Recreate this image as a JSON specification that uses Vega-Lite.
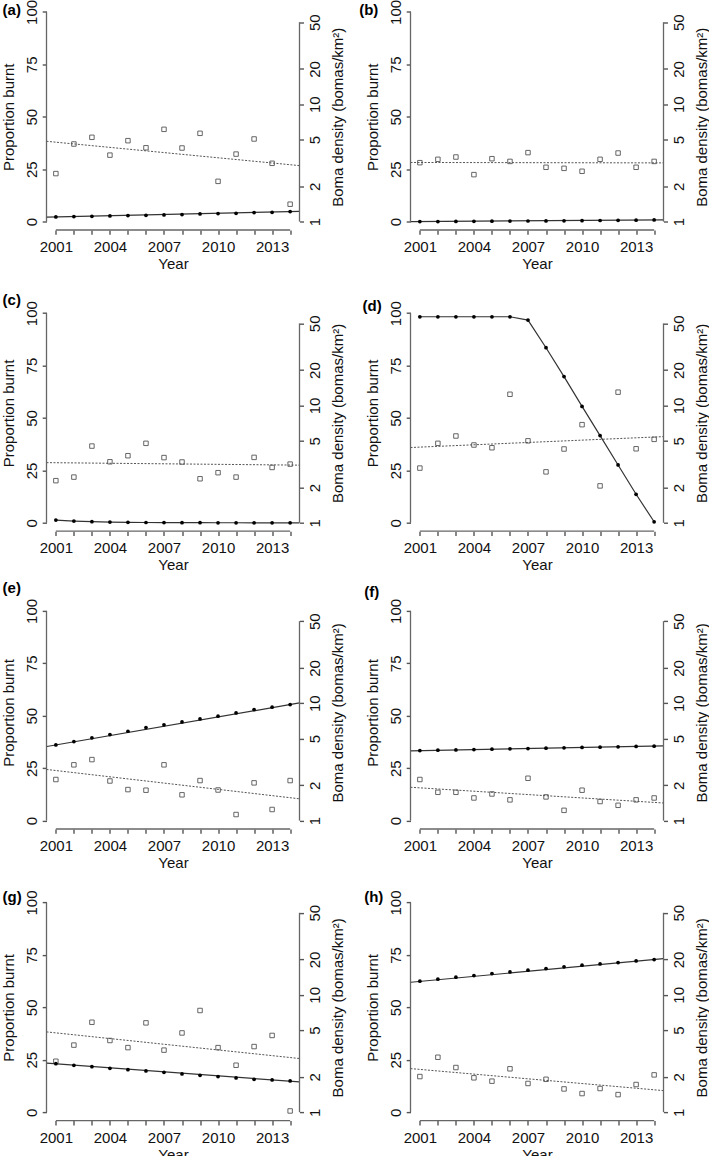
{
"$schema": "https://vega.github.io/schema/vega-lite/v6.json",
"background": "white",
"padding": {"left": 1.5, "top": -1.5, "right": 0, "bottom": 0},
"datasets": {
"burnt": [
{"panel":"a","year":2001,"burnt":22.9},{"panel":"a","year":2002,"burnt":37.0},{"panel":"a","year":2003,"burnt":40.2},{"panel":"a","year":2004,"burnt":31.7},{"panel":"a","year":2005,"burnt":38.6},{"panel":"a","year":2006,"burnt":35.2},{"panel":"a","year":2007,"burnt":44.0},{"panel":"a","year":2008,"burnt":35.1},{"panel":"a","year":2009,"burnt":42.1},{"panel":"a","year":2010,"burnt":19.2},{"panel":"a","year":2011,"burnt":32.2},{"panel":"a","year":2012,"burnt":39.4},{"panel":"a","year":2013,"burnt":27.8},{"panel":"a","year":2014,"burnt":8.3},
{"panel":"b","year":2001,"burnt":28.1},{"panel":"b","year":2002,"burnt":29.7},{"panel":"b","year":2003,"burnt":30.8},{"panel":"b","year":2004,"burnt":22.4},{"panel":"b","year":2005,"burnt":30.0},{"panel":"b","year":2006,"burnt":28.7},{"panel":"b","year":2007,"burnt":32.9},{"panel":"b","year":2008,"burnt":25.9},{"panel":"b","year":2009,"burnt":25.4},{"panel":"b","year":2010,"burnt":24.0},{"panel":"b","year":2011,"burnt":29.7},{"panel":"b","year":2012,"burnt":32.7},{"panel":"b","year":2013,"burnt":25.9},{"panel":"b","year":2014,"burnt":28.7},
{"panel":"c","year":2001,"burnt":20.1},{"panel":"c","year":2002,"burnt":21.8},{"panel":"c","year":2003,"burnt":36.6},{"panel":"c","year":2004,"burnt":29.1},{"panel":"c","year":2005,"burnt":32.0},{"panel":"c","year":2006,"burnt":37.9},{"panel":"c","year":2007,"burnt":31.1},{"panel":"c","year":2008,"burnt":29.0},{"panel":"c","year":2009,"burnt":21.0},{"panel":"c","year":2010,"burnt":23.9},{"panel":"c","year":2011,"burnt":21.8},{"panel":"c","year":2012,"burnt":31.2},{"panel":"c","year":2013,"burnt":26.4},{"panel":"c","year":2014,"burnt":28.0},
{"panel":"d","year":2001,"burnt":26.1},{"panel":"d","year":2002,"burnt":37.9},{"panel":"d","year":2003,"burnt":41.4},{"panel":"d","year":2004,"burnt":37.1},{"panel":"d","year":2005,"burnt":35.8},{"panel":"d","year":2006,"burnt":61.3},{"panel":"d","year":2007,"burnt":39.1},{"panel":"d","year":2008,"burnt":24.3},{"panel":"d","year":2009,"burnt":35.2},{"panel":"d","year":2010,"burnt":46.8},{"panel":"d","year":2011,"burnt":17.6},{"panel":"d","year":2012,"burnt":62.3},{"panel":"d","year":2013,"burnt":35.3},{"panel":"d","year":2014,"burnt":39.8},
{"panel":"e","year":2001,"burnt":19.6},{"panel":"e","year":2002,"burnt":26.6},{"panel":"e","year":2003,"burnt":29.1},{"panel":"e","year":2004,"burnt":18.9},{"panel":"e","year":2005,"burnt":14.8},{"panel":"e","year":2006,"burnt":14.5},{"panel":"e","year":2007,"burnt":26.6},{"panel":"e","year":2008,"burnt":12.3},{"panel":"e","year":2009,"burnt":19.1},{"panel":"e","year":2010,"burnt":14.6},{"panel":"e","year":2011,"burnt":2.9},{"panel":"e","year":2012,"burnt":18.0},{"panel":"e","year":2013,"burnt":5.3},{"panel":"e","year":2014,"burnt":19.1},
{"panel":"f","year":2001,"burnt":19.6},{"panel":"f","year":2002,"burnt":13.5},{"panel":"f","year":2003,"burnt":13.5},{"panel":"f","year":2004,"burnt":10.8},{"panel":"f","year":2005,"burnt":12.7},{"panel":"f","year":2006,"burnt":9.9},{"panel":"f","year":2007,"burnt":20.2},{"panel":"f","year":2008,"burnt":11.3},{"panel":"f","year":2009,"burnt":4.9},{"panel":"f","year":2010,"burnt":14.5},{"panel":"f","year":2011,"burnt":9.1},{"panel":"f","year":2012,"burnt":7.3},{"panel":"f","year":2013,"burnt":9.9},{"panel":"f","year":2014,"burnt":10.8},
{"panel":"g","year":2001,"burnt":24.3},{"panel":"g","year":2002,"burnt":32.0},{"panel":"g","year":2003,"burnt":42.9},{"panel":"g","year":2004,"burnt":34.2},{"panel":"g","year":2005,"burnt":30.8},{"panel":"g","year":2006,"burnt":42.6},{"panel":"g","year":2007,"burnt":29.6},{"panel":"g","year":2008,"burnt":37.8},{"panel":"g","year":2009,"burnt":48.5},{"panel":"g","year":2010,"burnt":30.8},{"panel":"g","year":2011,"burnt":22.4},{"panel":"g","year":2012,"burnt":31.3},{"panel":"g","year":2013,"burnt":36.6},{"panel":"g","year":2014,"burnt":0.6},
{"panel":"h","year":2001,"burnt":17.0},{"panel":"h","year":2002,"burnt":26.2},{"panel":"h","year":2003,"burnt":21.3},{"panel":"h","year":2004,"burnt":16.4},{"panel":"h","year":2005,"burnt":14.8},{"panel":"h","year":2006,"burnt":20.7},{"panel":"h","year":2007,"burnt":13.7},{"panel":"h","year":2008,"burnt":15.7},{"panel":"h","year":2009,"burnt":11.1},{"panel":"h","year":2010,"burnt":8.9},{"panel":"h","year":2011,"burnt":11.3},{"panel":"h","year":2012,"burnt":8.4},{"panel":"h","year":2013,"burnt":13.2},{"panel":"h","year":2014,"burnt":17.8}
],
"density": [
{"panel":"a","year":2001,"density":1.096},{"panel":"a","year":2002,"density":1.103},{"panel":"a","year":2003,"density":1.110},{"panel":"a","year":2004,"density":1.118},{"panel":"a","year":2005,"density":1.125},{"panel":"a","year":2006,"density":1.132},{"panel":"a","year":2007,"density":1.140},{"panel":"a","year":2008,"density":1.147},{"panel":"a","year":2009,"density":1.163},{"panel":"a","year":2010,"density":1.170},{"panel":"a","year":2011,"density":1.178},{"panel":"a","year":2012,"density":1.193},{"panel":"a","year":2013,"density":1.201},{"panel":"a","year":2014,"density":1.217},
{"panel":"b","year":2001,"density":1.000},{"panel":"b","year":2002,"density":1.002},{"panel":"b","year":2003,"density":1.004},{"panel":"b","year":2004,"density":1.006},{"panel":"b","year":2005,"density":1.008},{"panel":"b","year":2006,"density":1.010},{"panel":"b","year":2007,"density":1.012},{"panel":"b","year":2008,"density":1.014},{"panel":"b","year":2009,"density":1.016},{"panel":"b","year":2010,"density":1.019},{"panel":"b","year":2011,"density":1.022},{"panel":"b","year":2012,"density":1.025},{"panel":"b","year":2013,"density":1.029},{"panel":"b","year":2014,"density":1.033},
{"panel":"c","year":2001,"density":1.054},{"panel":"c","year":2002,"density":1.035},{"panel":"c","year":2003,"density":1.022},{"panel":"c","year":2004,"density":1.014},{"panel":"c","year":2005,"density":1.009},{"panel":"c","year":2006,"density":1.006},{"panel":"c","year":2007,"density":1.004},{"panel":"c","year":2008,"density":1.003},{"panel":"c","year":2009,"density":1.002},{"panel":"c","year":2010,"density":1.001},{"panel":"c","year":2011,"density":1.001},{"panel":"c","year":2012,"density":1.000},{"panel":"c","year":2013,"density":1.000},{"panel":"c","year":2014,"density":1.000},
{"panel":"d","year":2001,"density":56.9},{"panel":"d","year":2002,"density":56.9},{"panel":"d","year":2003,"density":56.9},{"panel":"d","year":2004,"density":56.9},{"panel":"d","year":2005,"density":56.9},{"panel":"d","year":2006,"density":56.9},{"panel":"d","year":2007,"density":53.3},{"panel":"d","year":2008,"density":31.0},{"panel":"d","year":2009,"density":17.6},{"panel":"d","year":2010,"density":9.81},{"panel":"d","year":2011,"density":5.53},{"panel":"d","year":2012,"density":3.11},{"panel":"d","year":2013,"density":1.75},{"panel":"d","year":2014,"density":1.02},
{"panel":"e","year":2001,"density":4.41},{"panel":"e","year":2002,"density":4.71},{"panel":"e","year":2003,"density":5.07},{"panel":"e","year":2004,"density":5.41},{"panel":"e","year":2005,"density":5.77},{"panel":"e","year":2006,"density":6.20},{"panel":"e","year":2007,"density":6.54},{"panel":"e","year":2008,"density":6.93},{"panel":"e","year":2009,"density":7.35},{"panel":"e","year":2010,"density":7.75},{"panel":"e","year":2011,"density":8.27},{"panel":"e","year":2012,"density":8.83},{"panel":"e","year":2013,"density":9.24},{"panel":"e","year":2014,"density":9.74},
{"panel":"f","year":2001,"density":3.95},{"panel":"f","year":2002,"density":3.98},{"panel":"f","year":2003,"density":4.00},{"panel":"f","year":2004,"density":4.03},{"panel":"f","year":2005,"density":4.06},{"panel":"f","year":2006,"density":4.09},{"panel":"f","year":2007,"density":4.11},{"panel":"f","year":2008,"density":4.14},{"panel":"f","year":2009,"density":4.17},{"panel":"f","year":2010,"density":4.20},{"panel":"f","year":2011,"density":4.22},{"panel":"f","year":2012,"density":4.25},{"panel":"f","year":2013,"density":4.28},{"panel":"f","year":2014,"density":4.30},
{"panel":"g","year":2001,"density":2.593},{"panel":"g","year":2002,"density":2.508},{"panel":"g","year":2003,"density":2.444},{"panel":"g","year":2004,"density":2.365},{"panel":"g","year":2005,"density":2.305},{"panel":"g","year":2006,"density":2.245},{"panel":"g","year":2007,"density":2.188},{"panel":"g","year":2008,"density":2.117},{"panel":"g","year":2009,"density":2.063},{"panel":"g","year":2010,"density":2.010},{"panel":"g","year":2011,"density":1.957},{"panel":"g","year":2012,"density":1.908},{"panel":"g","year":2013,"density":1.883},{"panel":"g","year":2014,"density":1.846},
{"panel":"h","year":2001,"density":13.06},{"panel":"h","year":2002,"density":13.59},{"panel":"h","year":2003,"density":14.13},{"panel":"h","year":2004,"density":14.60},{"panel":"h","year":2005,"density":15.18},{"panel":"h","year":2006,"density":15.68},{"panel":"h","year":2007,"density":16.20},{"panel":"h","year":2008,"density":16.74},{"panel":"h","year":2009,"density":17.30},{"panel":"h","year":2010,"density":17.87},{"panel":"h","year":2011,"density":18.34},{"panel":"h","year":2012,"density":18.83},{"panel":"h","year":2013,"density":19.45},{"panel":"h","year":2014,"density":19.97}
],
"burnt_trend": [
{"panel":"a","year":2000.48,"burnt":38.3},{"panel":"a","year":2014.52,"burnt":26.7},
{"panel":"b","year":2000.48,"burnt":28.2},{"panel":"b","year":2014.52,"burnt":28.0},
{"panel":"c","year":2000.48,"burnt":28.7},{"panel":"c","year":2014.52,"burnt":27.5},
{"panel":"d","year":2000.48,"burnt":35.9},{"panel":"d","year":2014.52,"burnt":41.1},
{"panel":"e","year":2000.48,"burnt":24.4},{"panel":"e","year":2014.52,"burnt":10.4},
{"panel":"f","year":2000.48,"burnt":15.9},{"panel":"f","year":2014.52,"burnt":8.4},
{"panel":"g","year":2000.48,"burnt":38.3},{"panel":"g","year":2014.52,"burnt":25.6},
{"panel":"h","year":2000.48,"burnt":20.8},{"panel":"h","year":2014.52,"burnt":10.3}
],
"density_trend": [
{"panel":"a","year":2000.5,"density":1.092},{"panel":"a","year":2014.52,"density":1.222},
{"panel":"b","year":2000.5,"density":0.999},{"panel":"b","year":2014.52,"density":1.035},
{"panel":"c","year":2001,"density":1.054},{"panel":"c","year":2002,"density":1.035},{"panel":"c","year":2003,"density":1.022},{"panel":"c","year":2004,"density":1.014},{"panel":"c","year":2005,"density":1.009},{"panel":"c","year":2006,"density":1.006},{"panel":"c","year":2007,"density":1.004},{"panel":"c","year":2008,"density":1.003},{"panel":"c","year":2009,"density":1.002},{"panel":"c","year":2010,"density":1.001},{"panel":"c","year":2011,"density":1.001},{"panel":"c","year":2012,"density":1.000},{"panel":"c","year":2013,"density":1.000},{"panel":"c","year":2014,"density":1.000},{"panel":"c","year":2014.52,"density":1.000},
{"panel":"d","year":2001,"density":56.9},{"panel":"d","year":2006,"density":56.9},{"panel":"d","year":2007,"density":53.3},{"panel":"d","year":2008,"density":31.0},{"panel":"d","year":2009,"density":17.6},{"panel":"d","year":2010,"density":9.81},{"panel":"d","year":2011,"density":5.53},{"panel":"d","year":2012,"density":3.11},{"panel":"d","year":2013,"density":1.75},{"panel":"d","year":2014,"density":1.02},
{"panel":"e","year":2000.5,"density":4.28},{"panel":"e","year":2014.52,"density":10.05},
{"panel":"f","year":2000.5,"density":3.93},{"panel":"f","year":2014.52,"density":4.33},
{"panel":"g","year":2000.5,"density":2.62},{"panel":"g","year":2014.52,"density":1.81},
{"panel":"h","year":2000.5,"density":12.8},{"panel":"h","year":2014.52,"density":20.3}
],
"frame_left": [
{"side":"left","year":2000.48,"value":0},{"side":"left","year":2000.48,"value":100},
{"side":"bottom","year":2001,"value":-4},{"side":"bottom","year":2014,"value":-4}
],
"frame_right": [
{"side":"right","year":2014.52,"density":1},{"side":"right","year":2014.52,"density":50}
]
},
"concat": [
{"width":253,"height":226.5,"title":{"text":"(a)","dx":-43.9,"dy":23.0},
"layer":[
{"data":{"name":"burnt"},"transform":[{"filter":"datum.panel === 'a'"}],"mark":{"type":"point","shape":"square","filled":false,"size":20,"stroke":"#555555","strokeWidth":0.9,"opacity":1},
"encoding":{"x":{"field":"year","type":"quantitative","scale":{"domain":[2000.48,2014.52],"nice":false,"zero":false},"axis":{"orient":"bottom","values":[2001,2002,2003,2004,2005,2006,2007,2008,2009,2010,2011,2012,2013,2014],"format":"d","labelExpr":"(datum.value - 2001) % 3 === 0 ? datum.label : ''","labelOverlap":false,"labelFlush":false,"ticks":true,"tickSize":4.3,"tickWidth":1.4,"tickColor":"#555555","labelPadding":5.2,"title":"Year","titlePadding":2}},
"y":{"field":"burnt","type":"quantitative","scale":{"domain":[-4,104],"nice":false,"zero":false},"axis":{"orient":"left","values":[0,25,50,75,100],"tickSize":4.3,"labelAngle":270,"labelAlign":"center","labelBaseline":"alphabetic","labelPadding":6,"title":"Proportion burnt","titleAngle":270,"titleAlign":"center","titleBaseline":"bottom","titlePadding":7.3}}}},
{"data":{"name":"burnt_trend"},"transform":[{"filter":"datum.panel === 'a'"}],"mark":{"type":"line","strokeDash":[2,1.5],"strokeWidth":1,"color":"#555555"},
"encoding":{"x":{"field":"year","type":"quantitative","scale":{"domain":[2000.48,2014.52],"nice":false,"zero":false},"axis":null},"y":{"field":"burnt","type":"quantitative","scale":{"domain":[-4,104],"nice":false,"zero":false},"axis":null}}},
{"data":{"name":"frame_left"},"mark":{"type":"line","color":"#666666","strokeWidth":1.3},"encoding":{"x":{"field":"year","type":"quantitative","scale":{"domain":[2000.48,2014.52],"nice":false,"zero":false},"axis":null},"y":{"field":"value","type":"quantitative","scale":{"domain":[-4,104],"nice":false,"zero":false},"axis":null},"detail":{"field":"side"}}},
{"data":{"name":"density_trend"},"transform":[{"filter":"datum.panel === 'a'"}],"mark":{"type":"line","color":"#333333","strokeWidth":1.2},
"encoding":{"x":{"field":"year","type":"quantitative","scale":{"domain":[2000.48,2014.52],"nice":false,"zero":false},"axis":null},"y":{"field":"density","type":"quantitative","scale":{"type":"log","domain":[0.8482,72.1],"nice":false},"axis":{"orient":"right","values":[1,2,5,10,20,50],"format":"d","tickSize":4,"labelAngle":270,"labelAlign":"center","labelBaseline":"top","labelPadding":4.3,"title":"Boma density (bomas/km²)","titleAngle":270,"titleAlign":"center","titleBaseline":"top","titlePadding":7.5}}}},
{"data":{"name":"density"},"transform":[{"filter":"datum.panel === 'a'"}],"mark":{"type":"point","shape":"circle","filled":true,"size":14,"color":"#000000","opacity":1},
"encoding":{"x":{"field":"year","type":"quantitative","scale":{"domain":[2000.48,2014.52],"nice":false,"zero":false},"axis":null},"y":{"field":"density","type":"quantitative","scale":{"type":"log","domain":[0.8482,72.1],"nice":false},"axis":null}}},
{"data":{"name":"frame_right"},"mark":{"type":"line","color":"#666666","strokeWidth":1.3},"encoding":{"x":{"field":"year","type":"quantitative","scale":{"domain":[2000.48,2014.52],"nice":false,"zero":false},"axis":null},"y":{"field":"density","type":"quantitative","scale":{"type":"log","domain":[0.8482,72.1],"nice":false},"axis":null}}}
],
"resolve":{"scale":{"x":"independent","y":"independent"}}},

{"width":253,"height":226.5,"title":{"text":"(b)","dx":-51.3,"dy":23.0},
"layer":[
{"data":{"name":"burnt"},"transform":[{"filter":"datum.panel === 'b'"}],"mark":{"type":"point","shape":"square","filled":false,"size":20,"stroke":"#555555","strokeWidth":0.9,"opacity":1},
"encoding":{"x":{"field":"year","type":"quantitative","scale":{"domain":[2000.48,2014.52],"nice":false,"zero":false},"axis":{"orient":"bottom","values":[2001,2002,2003,2004,2005,2006,2007,2008,2009,2010,2011,2012,2013,2014],"format":"d","labelExpr":"(datum.value - 2001) % 3 === 0 ? datum.label : ''","labelOverlap":false,"labelFlush":false,"ticks":true,"tickSize":4.3,"tickWidth":1.4,"tickColor":"#555555","labelPadding":5.2,"title":"Year","titlePadding":2}},
"y":{"field":"burnt","type":"quantitative","scale":{"domain":[-4,104],"nice":false,"zero":false},"axis":{"orient":"left","values":[0,25,50,75,100],"tickSize":4.3,"labelAngle":270,"labelAlign":"center","labelBaseline":"alphabetic","labelPadding":6,"title":"Proportion burnt","titleAngle":270,"titleAlign":"center","titleBaseline":"bottom","titlePadding":7.3}}}},
{"data":{"name":"burnt_trend"},"transform":[{"filter":"datum.panel === 'b'"}],"mark":{"type":"line","strokeDash":[2,1.5],"strokeWidth":1,"color":"#555555"},
"encoding":{"x":{"field":"year","type":"quantitative","scale":{"domain":[2000.48,2014.52],"nice":false,"zero":false},"axis":null},"y":{"field":"burnt","type":"quantitative","scale":{"domain":[-4,104],"nice":false,"zero":false},"axis":null}}},
{"data":{"name":"frame_left"},"mark":{"type":"line","color":"#666666","strokeWidth":1.3},"encoding":{"x":{"field":"year","type":"quantitative","scale":{"domain":[2000.48,2014.52],"nice":false,"zero":false},"axis":null},"y":{"field":"value","type":"quantitative","scale":{"domain":[-4,104],"nice":false,"zero":false},"axis":null},"detail":{"field":"side"}}},
{"data":{"name":"density_trend"},"transform":[{"filter":"datum.panel === 'b'"}],"mark":{"type":"line","color":"#333333","strokeWidth":1.2},
"encoding":{"x":{"field":"year","type":"quantitative","scale":{"domain":[2000.48,2014.52],"nice":false,"zero":false},"axis":null},"y":{"field":"density","type":"quantitative","scale":{"type":"log","domain":[0.8482,72.1],"nice":false},"axis":{"orient":"right","values":[1,2,5,10,20,50],"format":"d","tickSize":4,"labelAngle":270,"labelAlign":"center","labelBaseline":"top","labelPadding":4.3,"title":"Boma density (bomas/km²)","titleAngle":270,"titleAlign":"center","titleBaseline":"top","titlePadding":7.5}}}},
{"data":{"name":"density"},"transform":[{"filter":"datum.panel === 'b'"}],"mark":{"type":"point","shape":"circle","filled":true,"size":14,"color":"#000000","opacity":1},
"encoding":{"x":{"field":"year","type":"quantitative","scale":{"domain":[2000.48,2014.52],"nice":false,"zero":false},"axis":null},"y":{"field":"density","type":"quantitative","scale":{"type":"log","domain":[0.8482,72.1],"nice":false},"axis":null}}},
{"data":{"name":"frame_right"},"mark":{"type":"line","color":"#666666","strokeWidth":1.3},"encoding":{"x":{"field":"year","type":"quantitative","scale":{"domain":[2000.48,2014.52],"nice":false,"zero":false},"axis":null},"y":{"field":"density","type":"quantitative","scale":{"type":"log","domain":[0.8482,72.1],"nice":false},"axis":null}}}
],
"resolve":{"scale":{"x":"independent","y":"independent"}}},

{"width":253,"height":236.5,"title":{"text":"(c)","dx":-43.9,"dy":16.9},
"layer":[
{"data":{"name":"burnt"},"transform":[{"filter":"datum.panel === 'c'"}],"mark":{"type":"point","shape":"square","filled":false,"size":20,"stroke":"#555555","strokeWidth":0.9,"opacity":1},
"encoding":{"x":{"field":"year","type":"quantitative","scale":{"domain":[2000.48,2014.52],"nice":false,"zero":false},"axis":{"orient":"bottom","values":[2001,2002,2003,2004,2005,2006,2007,2008,2009,2010,2011,2012,2013,2014],"format":"d","labelExpr":"(datum.value - 2001) % 3 === 0 ? datum.label : ''","labelOverlap":false,"labelFlush":false,"ticks":true,"tickSize":4.3,"tickWidth":1.4,"tickColor":"#555555","labelPadding":5.2,"title":"Year","titlePadding":2}},
"y":{"field":"burnt","type":"quantitative","scale":{"domain":[-4,108.78],"nice":false,"zero":false},"axis":{"orient":"left","values":[0,25,50,75,100],"tickSize":4.3,"labelAngle":270,"labelAlign":"center","labelBaseline":"alphabetic","labelPadding":6,"title":"Proportion burnt","titleAngle":270,"titleAlign":"center","titleBaseline":"bottom","titlePadding":7.3}}}},
{"data":{"name":"burnt_trend"},"transform":[{"filter":"datum.panel === 'c'"}],"mark":{"type":"line","strokeDash":[2,1.5],"strokeWidth":1,"color":"#555555"},
"encoding":{"x":{"field":"year","type":"quantitative","scale":{"domain":[2000.48,2014.52],"nice":false,"zero":false},"axis":null},"y":{"field":"burnt","type":"quantitative","scale":{"domain":[-4,108.78],"nice":false,"zero":false},"axis":null}}},
{"data":{"name":"frame_left"},"mark":{"type":"line","color":"#666666","strokeWidth":1.3},"encoding":{"x":{"field":"year","type":"quantitative","scale":{"domain":[2000.48,2014.52],"nice":false,"zero":false},"axis":null},"y":{"field":"value","type":"quantitative","scale":{"domain":[-4,108.78],"nice":false,"zero":false},"axis":null},"detail":{"field":"side"}}},
{"data":{"name":"density_trend"},"transform":[{"filter":"datum.panel === 'c'"}],"mark":{"type":"line","color":"#333333","strokeWidth":1.2},
"encoding":{"x":{"field":"year","type":"quantitative","scale":{"domain":[2000.48,2014.52],"nice":false,"zero":false},"axis":null},"y":{"field":"density","type":"quantitative","scale":{"type":"log","domain":[0.8482,87.7],"nice":false},"axis":{"orient":"right","values":[1,2,5,10,20,50],"format":"d","tickSize":4,"labelAngle":270,"labelAlign":"center","labelBaseline":"top","labelPadding":4.3,"title":"Boma density (bomas/km²)","titleAngle":270,"titleAlign":"center","titleBaseline":"top","titlePadding":7.5}}}},
{"data":{"name":"density"},"transform":[{"filter":"datum.panel === 'c'"}],"mark":{"type":"point","shape":"circle","filled":true,"size":14,"color":"#000000","opacity":1},
"encoding":{"x":{"field":"year","type":"quantitative","scale":{"domain":[2000.48,2014.52],"nice":false,"zero":false},"axis":null},"y":{"field":"density","type":"quantitative","scale":{"type":"log","domain":[0.8482,87.7],"nice":false},"axis":null}}},
{"data":{"name":"frame_right"},"mark":{"type":"line","color":"#666666","strokeWidth":1.3},"encoding":{"x":{"field":"year","type":"quantitative","scale":{"domain":[2000.48,2014.52],"nice":false,"zero":false},"axis":null},"y":{"field":"density","type":"quantitative","scale":{"type":"log","domain":[0.8482,87.7],"nice":false},"axis":null}}}
],
"resolve":{"scale":{"x":"independent","y":"independent"}}},

{"width":253,"height":236.5,"title":{"text":"(d)","dx":-47.9,"dy":23.4},
"layer":[
{"data":{"name":"burnt"},"transform":[{"filter":"datum.panel === 'd'"}],"mark":{"type":"point","shape":"square","filled":false,"size":20,"stroke":"#555555","strokeWidth":0.9,"opacity":1},
"encoding":{"x":{"field":"year","type":"quantitative","scale":{"domain":[2000.48,2014.52],"nice":false,"zero":false},"axis":{"orient":"bottom","values":[2001,2002,2003,2004,2005,2006,2007,2008,2009,2010,2011,2012,2013,2014],"format":"d","labelExpr":"(datum.value - 2001) % 3 === 0 ? datum.label : ''","labelOverlap":false,"labelFlush":false,"ticks":true,"tickSize":4.3,"tickWidth":1.4,"tickColor":"#555555","labelPadding":5.2,"title":"Year","titlePadding":2}},
"y":{"field":"burnt","type":"quantitative","scale":{"domain":[-4,108.78],"nice":false,"zero":false},"axis":{"orient":"left","values":[0,25,50,75,100],"tickSize":4.3,"labelAngle":270,"labelAlign":"center","labelBaseline":"alphabetic","labelPadding":6,"title":"Proportion burnt","titleAngle":270,"titleAlign":"center","titleBaseline":"bottom","titlePadding":7.3}}}},
{"data":{"name":"burnt_trend"},"transform":[{"filter":"datum.panel === 'd'"}],"mark":{"type":"line","strokeDash":[2,1.5],"strokeWidth":1,"color":"#555555"},
"encoding":{"x":{"field":"year","type":"quantitative","scale":{"domain":[2000.48,2014.52],"nice":false,"zero":false},"axis":null},"y":{"field":"burnt","type":"quantitative","scale":{"domain":[-4,108.78],"nice":false,"zero":false},"axis":null}}},
{"data":{"name":"frame_left"},"mark":{"type":"line","color":"#666666","strokeWidth":1.3},"encoding":{"x":{"field":"year","type":"quantitative","scale":{"domain":[2000.48,2014.52],"nice":false,"zero":false},"axis":null},"y":{"field":"value","type":"quantitative","scale":{"domain":[-4,108.78],"nice":false,"zero":false},"axis":null},"detail":{"field":"side"}}},
{"data":{"name":"density_trend"},"transform":[{"filter":"datum.panel === 'd'"}],"mark":{"type":"line","color":"#333333","strokeWidth":1.2},
"encoding":{"x":{"field":"year","type":"quantitative","scale":{"domain":[2000.48,2014.52],"nice":false,"zero":false},"axis":null},"y":{"field":"density","type":"quantitative","scale":{"type":"log","domain":[0.8482,87.7],"nice":false},"axis":{"orient":"right","values":[1,2,5,10,20,50],"format":"d","tickSize":4,"labelAngle":270,"labelAlign":"center","labelBaseline":"top","labelPadding":4.3,"title":"Boma density (bomas/km²)","titleAngle":270,"titleAlign":"center","titleBaseline":"top","titlePadding":7.5}}}},
{"data":{"name":"density"},"transform":[{"filter":"datum.panel === 'd'"}],"mark":{"type":"point","shape":"circle","filled":true,"size":14,"color":"#000000","opacity":1},
"encoding":{"x":{"field":"year","type":"quantitative","scale":{"domain":[2000.48,2014.52],"nice":false,"zero":false},"axis":null},"y":{"field":"density","type":"quantitative","scale":{"type":"log","domain":[0.8482,87.7],"nice":false},"axis":null}}},
{"data":{"name":"frame_right"},"mark":{"type":"line","color":"#666666","strokeWidth":1.3},"encoding":{"x":{"field":"year","type":"quantitative","scale":{"domain":[2000.48,2014.52],"nice":false,"zero":false},"axis":null},"y":{"field":"density","type":"quantitative","scale":{"type":"log","domain":[0.8482,87.7],"nice":false},"axis":null}}}
],
"resolve":{"scale":{"x":"independent","y":"independent"}}},

{"width":253,"height":233.1,"title":{"text":"(e)","dx":-43.9,"dy":3.7},
"layer":[
{"data":{"name":"burnt"},"transform":[{"filter":"datum.panel === 'e'"}],"mark":{"type":"point","shape":"square","filled":false,"size":20,"stroke":"#555555","strokeWidth":0.9,"opacity":1},
"encoding":{"x":{"field":"year","type":"quantitative","scale":{"domain":[2000.48,2014.52],"nice":false,"zero":false},"axis":{"orient":"bottom","values":[2001,2002,2003,2004,2005,2006,2007,2008,2009,2010,2011,2012,2013,2014],"format":"d","labelExpr":"(datum.value - 2001) % 3 === 0 ? datum.label : ''","labelOverlap":false,"labelFlush":false,"ticks":true,"tickSize":4.3,"tickWidth":1.4,"tickColor":"#555555","labelPadding":5.2,"title":"Year","titlePadding":2}},
"y":{"field":"burnt","type":"quantitative","scale":{"domain":[-4,107.16],"nice":false,"zero":false},"axis":{"orient":"left","values":[0,25,50,75,100],"tickSize":4.3,"labelAngle":270,"labelAlign":"center","labelBaseline":"alphabetic","labelPadding":6,"title":"Proportion burnt","titleAngle":270,"titleAlign":"center","titleBaseline":"bottom","titlePadding":7.3}}}},
{"data":{"name":"burnt_trend"},"transform":[{"filter":"datum.panel === 'e'"}],"mark":{"type":"line","strokeDash":[2,1.5],"strokeWidth":1,"color":"#555555"},
"encoding":{"x":{"field":"year","type":"quantitative","scale":{"domain":[2000.48,2014.52],"nice":false,"zero":false},"axis":null},"y":{"field":"burnt","type":"quantitative","scale":{"domain":[-4,107.16],"nice":false,"zero":false},"axis":null}}},
{"data":{"name":"frame_left"},"mark":{"type":"line","color":"#666666","strokeWidth":1.3},"encoding":{"x":{"field":"year","type":"quantitative","scale":{"domain":[2000.48,2014.52],"nice":false,"zero":false},"axis":null},"y":{"field":"value","type":"quantitative","scale":{"domain":[-4,107.16],"nice":false,"zero":false},"axis":null},"detail":{"field":"side"}}},
{"data":{"name":"density_trend"},"transform":[{"filter":"datum.panel === 'e'"}],"mark":{"type":"line","color":"#333333","strokeWidth":1.2},
"encoding":{"x":{"field":"year","type":"quantitative","scale":{"domain":[2000.48,2014.52],"nice":false,"zero":false},"axis":null},"y":{"field":"density","type":"quantitative","scale":{"type":"log","domain":[0.8482,82.06],"nice":false},"axis":{"orient":"right","values":[1,2,5,10,20,50],"format":"d","tickSize":4,"labelAngle":270,"labelAlign":"center","labelBaseline":"top","labelPadding":4.3,"title":"Boma density (bomas/km²)","titleAngle":270,"titleAlign":"center","titleBaseline":"top","titlePadding":7.5}}}},
{"data":{"name":"density"},"transform":[{"filter":"datum.panel === 'e'"}],"mark":{"type":"point","shape":"circle","filled":true,"size":14,"color":"#000000","opacity":1},
"encoding":{"x":{"field":"year","type":"quantitative","scale":{"domain":[2000.48,2014.52],"nice":false,"zero":false},"axis":null},"y":{"field":"density","type":"quantitative","scale":{"type":"log","domain":[0.8482,82.06],"nice":false},"axis":null}}},
{"data":{"name":"frame_right"},"mark":{"type":"line","color":"#666666","strokeWidth":1.3},"encoding":{"x":{"field":"year","type":"quantitative","scale":{"domain":[2000.48,2014.52],"nice":false,"zero":false},"axis":null},"y":{"field":"density","type":"quantitative","scale":{"type":"log","domain":[0.8482,82.06],"nice":false},"axis":null}}}
],
"resolve":{"scale":{"x":"independent","y":"independent"}}},

{"width":253,"height":233.1,"title":{"text":"(f)","dx":-46.3,"dy":7.7},
"layer":[
{"data":{"name":"burnt"},"transform":[{"filter":"datum.panel === 'f'"}],"mark":{"type":"point","shape":"square","filled":false,"size":20,"stroke":"#555555","strokeWidth":0.9,"opacity":1},
"encoding":{"x":{"field":"year","type":"quantitative","scale":{"domain":[2000.48,2014.52],"nice":false,"zero":false},"axis":{"orient":"bottom","values":[2001,2002,2003,2004,2005,2006,2007,2008,2009,2010,2011,2012,2013,2014],"format":"d","labelExpr":"(datum.value - 2001) % 3 === 0 ? datum.label : ''","labelOverlap":false,"labelFlush":false,"ticks":true,"tickSize":4.3,"tickWidth":1.4,"tickColor":"#555555","labelPadding":5.2,"title":"Year","titlePadding":2}},
"y":{"field":"burnt","type":"quantitative","scale":{"domain":[-4,107.16],"nice":false,"zero":false},"axis":{"orient":"left","values":[0,25,50,75,100],"tickSize":4.3,"labelAngle":270,"labelAlign":"center","labelBaseline":"alphabetic","labelPadding":6,"title":"Proportion burnt","titleAngle":270,"titleAlign":"center","titleBaseline":"bottom","titlePadding":7.3}}}},
{"data":{"name":"burnt_trend"},"transform":[{"filter":"datum.panel === 'f'"}],"mark":{"type":"line","strokeDash":[2,1.5],"strokeWidth":1,"color":"#555555"},
"encoding":{"x":{"field":"year","type":"quantitative","scale":{"domain":[2000.48,2014.52],"nice":false,"zero":false},"axis":null},"y":{"field":"burnt","type":"quantitative","scale":{"domain":[-4,107.16],"nice":false,"zero":false},"axis":null}}},
{"data":{"name":"frame_left"},"mark":{"type":"line","color":"#666666","strokeWidth":1.3},"encoding":{"x":{"field":"year","type":"quantitative","scale":{"domain":[2000.48,2014.52],"nice":false,"zero":false},"axis":null},"y":{"field":"value","type":"quantitative","scale":{"domain":[-4,107.16],"nice":false,"zero":false},"axis":null},"detail":{"field":"side"}}},
{"data":{"name":"density_trend"},"transform":[{"filter":"datum.panel === 'f'"}],"mark":{"type":"line","color":"#333333","strokeWidth":1.2},
"encoding":{"x":{"field":"year","type":"quantitative","scale":{"domain":[2000.48,2014.52],"nice":false,"zero":false},"axis":null},"y":{"field":"density","type":"quantitative","scale":{"type":"log","domain":[0.8482,82.06],"nice":false},"axis":{"orient":"right","values":[1,2,5,10,20,50],"format":"d","tickSize":4,"labelAngle":270,"labelAlign":"center","labelBaseline":"top","labelPadding":4.3,"title":"Boma density (bomas/km²)","titleAngle":270,"titleAlign":"center","titleBaseline":"top","titlePadding":7.5}}}},
{"data":{"name":"density"},"transform":[{"filter":"datum.panel === 'f'"}],"mark":{"type":"point","shape":"circle","filled":true,"size":14,"color":"#000000","opacity":1},
"encoding":{"x":{"field":"year","type":"quantitative","scale":{"domain":[2000.48,2014.52],"nice":false,"zero":false},"axis":null},"y":{"field":"density","type":"quantitative","scale":{"type":"log","domain":[0.8482,82.06],"nice":false},"axis":null}}},
{"data":{"name":"frame_right"},"mark":{"type":"line","color":"#666666","strokeWidth":1.3},"encoding":{"x":{"field":"year","type":"quantitative","scale":{"domain":[2000.48,2014.52],"nice":false,"zero":false},"axis":null},"y":{"field":"density","type":"quantitative","scale":{"type":"log","domain":[0.8482,82.06],"nice":false},"axis":null}}}
],
"resolve":{"scale":{"x":"independent","y":"independent"}}},

{"width":253,"height":226.5,"title":{"text":"(g)","dx":-43.9,"dy":19.0},
"layer":[
{"data":{"name":"burnt"},"transform":[{"filter":"datum.panel === 'g'"}],"mark":{"type":"point","shape":"square","filled":false,"size":20,"stroke":"#555555","strokeWidth":0.9,"opacity":1},
"encoding":{"x":{"field":"year","type":"quantitative","scale":{"domain":[2000.48,2014.52],"nice":false,"zero":false},"axis":{"orient":"bottom","values":[2001,2002,2003,2004,2005,2006,2007,2008,2009,2010,2011,2012,2013,2014],"format":"d","labelExpr":"(datum.value - 2001) % 3 === 0 ? datum.label : ''","labelOverlap":false,"labelFlush":false,"ticks":true,"tickSize":4.3,"tickWidth":1.4,"tickColor":"#555555","labelPadding":5.2,"title":"Year","titlePadding":2}},
"y":{"field":"burnt","type":"quantitative","scale":{"domain":[-4,104],"nice":false,"zero":false},"axis":{"orient":"left","values":[0,25,50,75,100],"tickSize":4.3,"labelAngle":270,"labelAlign":"center","labelBaseline":"alphabetic","labelPadding":6,"title":"Proportion burnt","titleAngle":270,"titleAlign":"center","titleBaseline":"bottom","titlePadding":7.3}}}},
{"data":{"name":"burnt_trend"},"transform":[{"filter":"datum.panel === 'g'"}],"mark":{"type":"line","strokeDash":[2,1.5],"strokeWidth":1,"color":"#555555"},
"encoding":{"x":{"field":"year","type":"quantitative","scale":{"domain":[2000.48,2014.52],"nice":false,"zero":false},"axis":null},"y":{"field":"burnt","type":"quantitative","scale":{"domain":[-4,104],"nice":false,"zero":false},"axis":null}}},
{"data":{"name":"frame_left"},"mark":{"type":"line","color":"#666666","strokeWidth":1.3},"encoding":{"x":{"field":"year","type":"quantitative","scale":{"domain":[2000.48,2014.52],"nice":false,"zero":false},"axis":null},"y":{"field":"value","type":"quantitative","scale":{"domain":[-4,104],"nice":false,"zero":false},"axis":null},"detail":{"field":"side"}}},
{"data":{"name":"density_trend"},"transform":[{"filter":"datum.panel === 'g'"}],"mark":{"type":"line","color":"#333333","strokeWidth":1.2},
"encoding":{"x":{"field":"year","type":"quantitative","scale":{"domain":[2000.48,2014.52],"nice":false,"zero":false},"axis":null},"y":{"field":"density","type":"quantitative","scale":{"type":"log","domain":[0.8482,72.1],"nice":false},"axis":{"orient":"right","values":[1,2,5,10,20,50],"format":"d","tickSize":4,"labelAngle":270,"labelAlign":"center","labelBaseline":"top","labelPadding":4.3,"title":"Boma density (bomas/km²)","titleAngle":270,"titleAlign":"center","titleBaseline":"top","titlePadding":7.5}}}},
{"data":{"name":"density"},"transform":[{"filter":"datum.panel === 'g'"}],"mark":{"type":"point","shape":"circle","filled":true,"size":14,"color":"#000000","opacity":1},
"encoding":{"x":{"field":"year","type":"quantitative","scale":{"domain":[2000.48,2014.52],"nice":false,"zero":false},"axis":null},"y":{"field":"density","type":"quantitative","scale":{"type":"log","domain":[0.8482,72.1],"nice":false},"axis":null}}},
{"data":{"name":"frame_right"},"mark":{"type":"line","color":"#666666","strokeWidth":1.3},"encoding":{"x":{"field":"year","type":"quantitative","scale":{"domain":[2000.48,2014.52],"nice":false,"zero":false},"axis":null},"y":{"field":"density","type":"quantitative","scale":{"type":"log","domain":[0.8482,72.1],"nice":false},"axis":null}}}
],
"resolve":{"scale":{"x":"independent","y":"independent"}}},

{"width":253,"height":226.5,"title":{"text":"(h)","dx":-46.3,"dy":19.5},
"layer":[
{"data":{"name":"burnt"},"transform":[{"filter":"datum.panel === 'h'"}],"mark":{"type":"point","shape":"square","filled":false,"size":20,"stroke":"#555555","strokeWidth":0.9,"opacity":1},
"encoding":{"x":{"field":"year","type":"quantitative","scale":{"domain":[2000.48,2014.52],"nice":false,"zero":false},"axis":{"orient":"bottom","values":[2001,2002,2003,2004,2005,2006,2007,2008,2009,2010,2011,2012,2013,2014],"format":"d","labelExpr":"(datum.value - 2001) % 3 === 0 ? datum.label : ''","labelOverlap":false,"labelFlush":false,"ticks":true,"tickSize":4.3,"tickWidth":1.4,"tickColor":"#555555","labelPadding":5.2,"title":"Year","titlePadding":2}},
"y":{"field":"burnt","type":"quantitative","scale":{"domain":[-4,104],"nice":false,"zero":false},"axis":{"orient":"left","values":[0,25,50,75,100],"tickSize":4.3,"labelAngle":270,"labelAlign":"center","labelBaseline":"alphabetic","labelPadding":6,"title":"Proportion burnt","titleAngle":270,"titleAlign":"center","titleBaseline":"bottom","titlePadding":7.3}}}},
{"data":{"name":"burnt_trend"},"transform":[{"filter":"datum.panel === 'h'"}],"mark":{"type":"line","strokeDash":[2,1.5],"strokeWidth":1,"color":"#555555"},
"encoding":{"x":{"field":"year","type":"quantitative","scale":{"domain":[2000.48,2014.52],"nice":false,"zero":false},"axis":null},"y":{"field":"burnt","type":"quantitative","scale":{"domain":[-4,104],"nice":false,"zero":false},"axis":null}}},
{"data":{"name":"frame_left"},"mark":{"type":"line","color":"#666666","strokeWidth":1.3},"encoding":{"x":{"field":"year","type":"quantitative","scale":{"domain":[2000.48,2014.52],"nice":false,"zero":false},"axis":null},"y":{"field":"value","type":"quantitative","scale":{"domain":[-4,104],"nice":false,"zero":false},"axis":null},"detail":{"field":"side"}}},
{"data":{"name":"density_trend"},"transform":[{"filter":"datum.panel === 'h'"}],"mark":{"type":"line","color":"#333333","strokeWidth":1.2},
"encoding":{"x":{"field":"year","type":"quantitative","scale":{"domain":[2000.48,2014.52],"nice":false,"zero":false},"axis":null},"y":{"field":"density","type":"quantitative","scale":{"type":"log","domain":[0.8482,72.1],"nice":false},"axis":{"orient":"right","values":[1,2,5,10,20,50],"format":"d","tickSize":4,"labelAngle":270,"labelAlign":"center","labelBaseline":"top","labelPadding":4.3,"title":"Boma density (bomas/km²)","titleAngle":270,"titleAlign":"center","titleBaseline":"top","titlePadding":7.5}}}},
{"data":{"name":"density"},"transform":[{"filter":"datum.panel === 'h'"}],"mark":{"type":"point","shape":"circle","filled":true,"size":14,"color":"#000000","opacity":1},
"encoding":{"x":{"field":"year","type":"quantitative","scale":{"domain":[2000.48,2014.52],"nice":false,"zero":false},"axis":null},"y":{"field":"density","type":"quantitative","scale":{"type":"log","domain":[0.8482,72.1],"nice":false},"axis":null}}},
{"data":{"name":"frame_right"},"mark":{"type":"line","color":"#666666","strokeWidth":1.3},"encoding":{"x":{"field":"year","type":"quantitative","scale":{"domain":[2000.48,2014.52],"nice":false,"zero":false},"axis":null},"y":{"field":"density","type":"quantitative","scale":{"type":"log","domain":[0.8482,72.1],"nice":false},"axis":null}}}
],
"resolve":{"scale":{"x":"independent","y":"independent"}}}
],
"columns": 2,
"spacing": {"row": 64.2, "column": 111},
"bounds": "flush",
"config": {
"view": {"stroke": null},
"axis": {"domain": false, "grid": false, "labelFont": "Liberation Sans", "titleFont": "Liberation Sans", "labelFontSize": 15, "titleFontSize": 15, "titleFontWeight": "normal", "labelColor": "#111111", "titleColor": "#111111", "tickColor": "#555555", "tickWidth": 1.4, "labelOverlap": false, "labelFlush": false, "labelBound": false},
"title": {"anchor": "start", "frame": "group", "offset": 0, "baseline": "alphabetic", "font": "Liberation Sans", "fontSize": 15, "fontWeight": "bold", "color": "#000000"}
}
}
